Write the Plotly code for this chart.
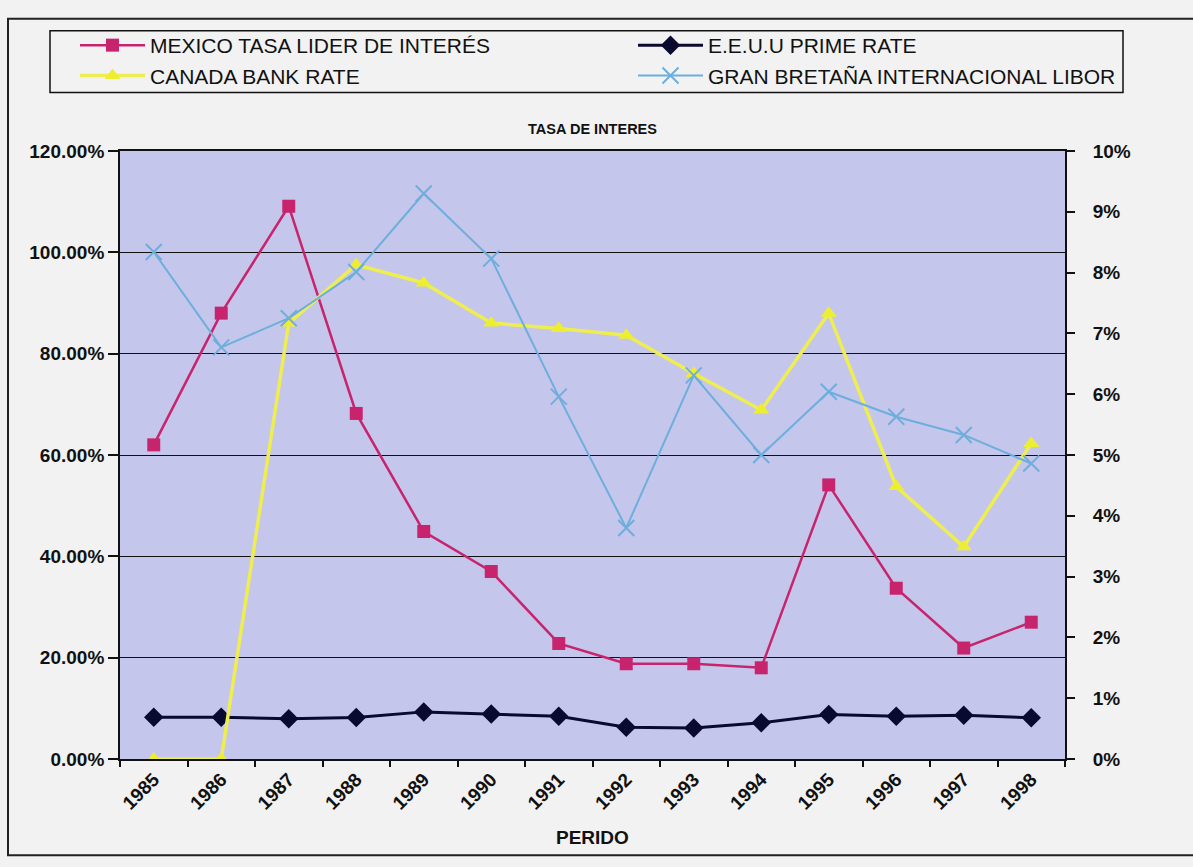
import plotly.graph_objects as go

years = ["1985", "1986", "1987", "1988", "1989", "1990", "1991",
         "1992", "1993", "1994", "1995", "1996", "1997", "1998"]

mexico = [0.620, 0.880, 1.091, 0.682, 0.449, 0.370, 0.228,
          0.188, 0.188, 0.180, 0.541, 0.337, 0.219, 0.270]
eeuu = [0.0824, 0.0824, 0.0792, 0.0820, 0.0930, 0.0890, 0.0843,
        0.0627, 0.0614, 0.0713, 0.0877, 0.0843, 0.0863, 0.0812]
canada = [0.0, 0.0, 0.0717, 0.0813, 0.0783, 0.0717, 0.0708,
          0.0697, 0.0634, 0.0574, 0.0733, 0.0448, 0.0349, 0.0519]
libor = [0.0834, 0.0677, 0.0725, 0.0801, 0.0930, 0.0823, 0.0596,
         0.0380, 0.0631, 0.0500, 0.0604, 0.0563, 0.0533, 0.0486]

FONT = "Liberation Sans, Arial, sans-serif"

fig = go.Figure()
fig.add_trace(go.Scatter(
    x=years, y=mexico, name="MEXICO TASA LIDER DE INTERÉS", mode="lines+markers",
    line=dict(color="#C8246E", width=2.5),
    marker=dict(symbol="square", size=13, color="#C8246E"), yaxis="y",
    legend="legend"))
fig.add_trace(go.Scatter(
    x=years, y=eeuu, name="E.E.U.U PRIME RATE", mode="lines+markers",
    line=dict(color="#0A0A30", width=3),
    marker=dict(symbol="diamond", size=15, color="#0A0A30"), yaxis="y",
    legend="legend2"))
fig.add_trace(go.Scatter(
    x=years, y=canada, name="CANADA BANK RATE", mode="lines+markers",
    line=dict(color="#EEEE50", width=3.5),
    marker=dict(symbol="triangle-up", size=14, color="#EEEE30"), yaxis="y2",
    legend="legend"))
fig.add_trace(go.Scatter(
    x=years, y=libor, name="GRAN BRETAÑA INTERNACIONAL LIBOR", mode="lines+markers",
    line=dict(color="#6EAEDC", width=2),
    marker=dict(symbol="x-thin-open", size=16, color="#6EAEDC",
                line=dict(width=2, color="#6EAEDC")), yaxis="y2",
    legend="legend2"))

L, R, T, B = 120, 1065, 150.5, 759.5
W, H = 1193, 867
pw, ph = R - L, B - T

def px(x):
    return (x - L) / pw

def py(y):
    return (B - y) / ph

TICKFONT = dict(size=19, family=FONT, color="#111111", weight="bold")
LEGFONT = dict(size=21, family=FONT, color="#111111")

def legend_at(xpix):
    return dict(orientation="v", xref="container", yref="container",
                x=xpix / W, y=1 - 25 / H, xanchor="left", yanchor="top",
                bgcolor="rgba(0,0,0,0)", borderwidth=0,
                font=LEGFONT, tracegroupgap=0, itemwidth=65)

fig.update_layout(
    width=W, height=H,
    margin=dict(l=L, r=W - R, t=T, b=H - B, autoexpand=False),
    paper_bgcolor="#F2F2F2",
    plot_bgcolor="#C5C6EC",
    font=dict(family=FONT, size=16, color="#111111"),
    title=dict(text="<b>TASA DE INTERES</b>", x=0.5, xref="paper", xanchor="center",
               y=1 - 129 / H, yanchor="middle", font=dict(size=14.5, color="#111111")),
    showlegend=True,
    legend=legend_at(75),
    legend2=legend_at(633),
    xaxis=dict(type="category", tickson="boundaries", ticks="outside", ticklen=6,
               tickcolor="#111111", tickwidth=1.5, tickangle=-45, showgrid=False,
               showline=True, linecolor="#111111", linewidth=1.8, mirror=True,
               tickfont=TICKFONT, range=[-0.5, 13.5]),
    yaxis=dict(range=[0, 1.2], dtick=0.2, tickformat=".2%", ticks="outside", ticklen=10,
               tickcolor="#111111", tickwidth=1.5, showgrid=True, gridcolor="#111111",
               gridwidth=1.3, showline=True, linecolor="#111111", linewidth=1.8,
               zeroline=False, tickfont=TICKFONT),
    yaxis2=dict(range=[0, 0.10], dtick=0.01, tickformat=".0%", overlaying="y",
                side="right", ticks="outside", ticklen=8, tickcolor="#111111",
                tickwidth=1.5, ticklabelstandoff=14,
                showgrid=False, showline=True, linecolor="#111111", linewidth=1.8,
                zeroline=False, tickfont=TICKFONT),
    annotations=[dict(text="<b>PERIDO</b>", x=0.5, y=py(838), xref="paper", yref="paper",
                      showarrow=False, font=dict(size=19, color="#111111"),
                      xanchor="center", yanchor="middle")],
    shapes=[
        dict(type="rect", xref="paper", yref="paper",
             x0=px(8), x1=px(1195), y0=py(856), y1=py(18),
             line=dict(color="#222222", width=2), fillcolor="rgba(0,0,0,0)",
             layer="below"),
        dict(type="rect", xref="paper", yref="paper",
             x0=px(50), x1=px(1123), y0=py(92), y1=py(30),
             line=dict(color="#111111", width=1.5), fillcolor="rgba(0,0,0,0)",
             layer="below"),
    ],
)

fig.write_html("out.html")
